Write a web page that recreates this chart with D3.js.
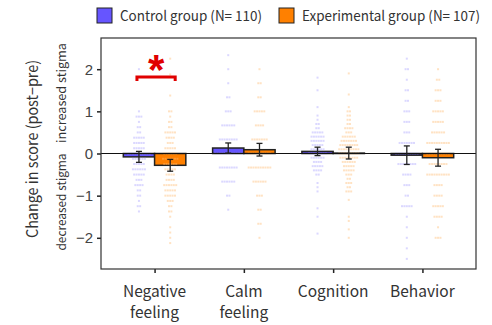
<!DOCTYPE html>
<html>
<head>
<meta charset="utf-8">
<script src="https://cdn.jsdelivr.net/npm/d3@7"></script>
<style>
  html, body { margin: 0; padding: 0; background: #fff; }
  svg { display: block; }
</style>
</head>
<body>
<svg id="chart" width="492" height="325"></svg>
<script>
// Outcome domains and group summaries
const categories = ["Negative\nfeeling", "Calm\nfeeling", "Cognition", "Behavior"];
const groups = ["Control group (N= 110)", "Experimental group (N= 107)"];
const controlMean = [-0.08, 0.13, 0.05, -0.04];
const controlSE   = [0.13, 0.12, 0.10, 0.22];
const expMean     = [-0.28, 0.09, 0.01, -0.10];
const expSE       = [0.14, 0.15, 0.14, 0.20];
const yTicks = [-2, -1, 0, 1, 2];

// Individual change scores, as [value, count] per domain
const controlPoints = [
  [[2,1],[1,1],[0.875,3],[0.75,1],[0.625,2],[0.5,2],[0.375,5],[0.25,5],[0.125,5],[0,10],[-0.125,6],[-0.25,5],[-0.375,6],[-0.5,5],[-0.625,3],[-0.75,4],[-0.875,2],[-1,2],[-1.125,1],[-1.25,2],[-1.375,1]],
  [[2.333,1],[2,1],[1.667,1],[1.333,2],[1,3],[0.667,6],[0.333,8],[0,12],[-0.333,8],[-0.667,6],[-1,2],[-1.333,1]],
  [[1.8,1],[1.5,1],[1.1,1],[0.9,1],[0.8,1],[0.7,2],[0.6,2],[0.5,5],[0.4,6],[0.3,6],[0.2,5],[0.1,6],[0,8],[-0.1,6],[-0.2,4],[-0.3,5],[-0.4,4],[-0.5,2],[-0.7,1],[-0.8,1],[-0.9,1],[-1.3,1],[-1.5,1],[-1.9,1]],
  [[2.25,1],[2,2],[1.75,1],[1.5,2],[1.25,2],[1,3],[0.75,3],[0.5,3],[0.25,7],[0,10],[-0.25,8],[-0.5,4],[-0.75,3],[-1,2],[-1.25,5],[-1.5,1],[-1.75,1],[-2,1],[-2.25,1],[-2.5,1]]
];
const expPoints = [
  [[2.25,1],[1.875,1],[1.375,1],[1,2],[0.875,1],[0.75,2],[0.625,2],[0.5,5],[0.375,4],[0.25,3],[0.125,5],[0,6],[-0.125,7],[-0.25,6],[-0.375,5],[-0.5,4],[-0.625,4],[-0.75,6],[-0.875,5],[-1,5],[-1.125,3],[-1.25,2],[-1.375,2],[-1.5,1],[-1.75,1],[-1.875,1],[-2,1],[-2.125,1]],
  [[2,1],[1.667,2],[1.333,2],[1,5],[0.667,4],[0.333,7],[0,10],[-0.333,10],[-0.667,6],[-1,3],[-1.333,2],[-1.667,2],[-2,1]],
  [[1.9,1],[1.4,1],[1.1,1],[1,2],[0.9,2],[0.8,2],[0.7,2],[0.6,4],[0.5,3],[0.4,6],[0.3,7],[0.2,8],[0.1,9],[0,9],[-0.1,8],[-0.2,6],[-0.3,5],[-0.4,5],[-0.5,3],[-0.6,2],[-0.7,3],[-0.8,2],[-0.9,3],[-1.1,1],[-1.5,1],[-1.6,1],[-1.8,1],[-2,1]],
  [[2,1],[1.75,2],[1.5,3],[1.25,3],[1,5],[0.75,5],[0.5,6],[0.25,10],[0,10],[-0.25,8],[-0.5,10],[-0.75,4],[-1,4],[-1.25,5],[-1.5,4],[-1.75,1],[-2,3]]
];

const fills = ["#6655ff", "#ff8000"];
const dotFills = ["#a9a1ff", "#ffbb70"];

const svg = d3.select("#chart");
const plot = { left: 101, right: 476, top: 38, bottom: 269 };

const x = d3.scaleLinear().domain([0.4, categories.length + 0.6]).range([plot.left, plot.right]);
const y = d3.scaleLinear().domain([-2.74, 2.74]).range([plot.bottom, plot.top]);
const barW = 0.35;

// axes
const yAxis = d3.axisLeft(y).tickValues(yTicks).tickSize(4).tickPadding(4).tickFormat(d3.format("d"));
const gy = svg.append("g").attr("transform", `translate(${plot.left},0)`).call(yAxis);
gy.select(".domain").remove();
gy.selectAll("line").attr("stroke", "#222").attr("stroke-width", 1.5);
gy.selectAll("text").attr("font-family", "Liberation Sans, Arial, sans-serif").attr("font-size", 15).attr("fill", "#444");

const xAxis = d3.axisBottom(x).tickValues(d3.range(1, categories.length + 1)).tickSize(4).tickFormat("");
const gx = svg.append("g").attr("transform", `translate(0,${plot.bottom})`).call(xAxis);
gx.select(".domain").remove();
gx.selectAll("line").attr("stroke", "#222").attr("stroke-width", 1.5);

// category labels (two lines where needed)
const catLabels = svg.append("g");
categories.forEach((c, i) => {
  const t = catLabels.append("text")
    .attr("x", x(i + 1)).attr("y", 297)
    .attr("text-anchor", "middle")
    .attr("font-family", "'Noto Sans CJK JP', sans-serif")
    .attr("font-size", 15.5).attr("fill", "#333");
  c.split("\n").forEach((line, k) => {
    t.append("tspan").attr("x", x(i + 1)).attr("dy", k === 0 ? 0 : 21).text(line);
  });
});

// bars
const series = [
  { mean: controlMean, se: controlSE, pts: controlPoints, off: -barW / 2 },
  { mean: expMean, se: expSE, pts: expPoints, off: barW / 2 }
];

series.forEach((s, gi) => {
  svg.append("g").selectAll("rect").data(s.mean).join("rect")
    .attr("x", (d, i) => x(i + 1 + s.off - barW / 2))
    .attr("width", x(barW) - x(0))
    .attr("y", d => y(Math.max(0, d)))
    .attr("height", d => Math.abs(y(d) - y(0)))
    .attr("fill", fills[gi])
    .attr("stroke", "#222").attr("stroke-width", 1.5);
});

// individual points, centred rows per value
const dotStep = 2.4, dotSize = 2;
series.forEach((s, gi) => {
  const pts = [];
  s.pts.forEach((rows, ci) => {
    rows.forEach(([v, n]) => {
      for (let k = 0; k < n; k++) {
        pts.push({ cx: x(ci + 1 + s.off) + (k - (n - 1) / 2) * dotStep, v });
      }
    });
  });
  svg.append("g").selectAll("rect").data(pts).join("rect")
    .attr("x", d => d.cx - dotSize / 2)
    .attr("y", d => y(d.v) - dotSize / 2)
    .attr("width", dotSize).attr("height", dotSize)
    .attr("fill", dotFills[gi]).attr("opacity", 0.42);
});

// zero line
svg.append("line")
  .attr("x1", plot.left).attr("x2", plot.right)
  .attr("y1", y(0)).attr("y2", y(0))
  .attr("stroke", "#111").attr("stroke-width", 1.2);

// error bars
series.forEach((s) => {
  const g = svg.append("g").attr("stroke", "#222").attr("stroke-width", 1.3);
  s.mean.forEach((m, i) => {
    const cx = x(i + 1 + s.off);
    g.append("line").attr("x1", cx).attr("x2", cx).attr("y1", y(m + s.se[i])).attr("y2", y(m - s.se[i]));
    [m + s.se[i], m - s.se[i]].forEach(v => {
      g.append("line").attr("x1", cx - 3).attr("x2", cx + 3).attr("y1", y(v)).attr("y2", y(v));
    });
  });
});

// frame
svg.append("rect")
  .attr("x", plot.left).attr("y", plot.top)
  .attr("width", plot.right - plot.left).attr("height", plot.bottom - plot.top)
  .attr("fill", "none").attr("stroke", "#333").attr("stroke-width", 1.2);

// significance bracket
const bx1 = x(1 - barW / 2) - 2, bx2 = x(1 + barW / 2) + 5, by = 77;
svg.append("path")
  .attr("d", `M${bx1},${by + 4}V${by}H${bx2}V${by + 4}`)
  .attr("fill", "none").attr("stroke", "#e00000").attr("stroke-width", 3);
svg.append("text")
  .attr("x", (bx1 + bx2) / 2).attr("y", 84)
  .attr("text-anchor", "middle")
  .attr("font-family", "Liberation Sans, Arial, sans-serif")
  .attr("font-weight", "bold")
  .attr("font-size", 42).attr("fill", "#e00000").text("*");

// y titles
svg.append("text")
  .attr("transform", "translate(38,149) rotate(-90)")
  .attr("text-anchor", "middle")
  .attr("font-family", "'Noto Sans CJK JP', sans-serif")
  .attr("font-size", 15.5).attr("fill", "#333")
  .attr("textLength", 178).attr("lengthAdjust", "spacingAndGlyphs")
  .text("Change in score (post\u2212pre)");
svg.append("text")
  .attr("transform", "translate(66,93) rotate(-90)")
  .attr("text-anchor", "middle")
  .attr("font-family", "'Noto Sans CJK JP', sans-serif")
  .attr("font-size", 12).attr("fill", "#333")
  .attr("textLength", 100).attr("lengthAdjust", "spacingAndGlyphs")
  .text("increased stigma");
svg.append("text")
  .attr("transform", "translate(66,202) rotate(-90)")
  .attr("text-anchor", "middle")
  .attr("font-family", "'Noto Sans CJK JP', sans-serif")
  .attr("font-size", 12).attr("fill", "#333")
  .attr("textLength", 97).attr("lengthAdjust", "spacingAndGlyphs")
  .text("decreased stigma");

// legend
const legendX = [97, 279];
groups.forEach((g, i) => {
  svg.append("rect")
    .attr("x", legendX[i]).attr("y", 8).attr("width", 15).attr("height", 15)
    .attr("fill", fills[i]).attr("stroke", "#222").attr("stroke-width", 1);
  svg.append("text")
    .attr("x", legendX[i] + 23).attr("y", 20.5)
    .attr("font-family", "'Noto Sans CJK JP', sans-serif")
    .attr("font-size", 14).attr("fill", "#333")
    .attr("textLength", i === 0 ? 142 : 178).attr("lengthAdjust", "spacingAndGlyphs")
    .text(g);
});
</script>
</body>
</html>
